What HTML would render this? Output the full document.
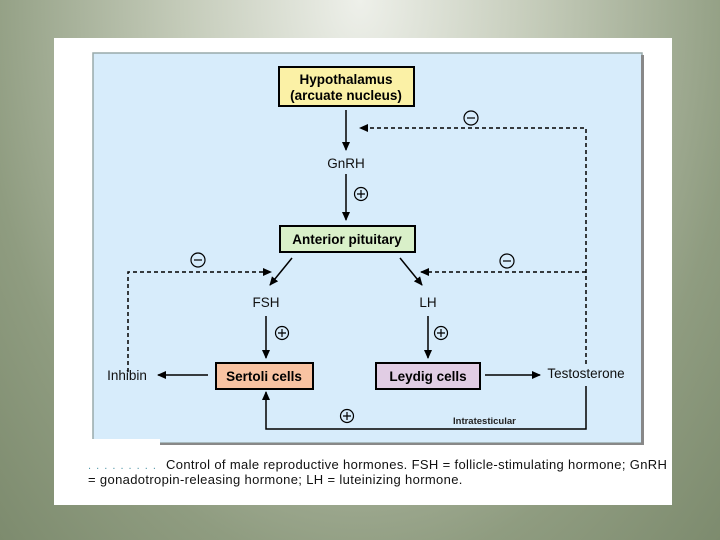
<!DOCTYPE html>
<html><head><style>
html,body{margin:0;padding:0}
body{width:720px;height:540px;overflow:hidden;position:relative;
background:radial-gradient(ellipse at 50% 0%,#eef0ea 0%,#c4cbb9 35%,#8f9c80 75%,#7d8b6e 100%);
font-family:"Liberation Sans",sans-serif}
#panel{position:absolute;left:54px;top:38px;width:618px;height:467px;background:#fff}
svg{position:absolute;left:0;top:0}
.cap{position:absolute;left:88px;font-size:13px;color:#111;white-space:nowrap;letter-spacing:0.35px}
</style></head><body>
<div id="panel"></div>
<svg width="720" height="540" font-family="Liberation Sans, sans-serif">
<defs><marker id="a" markerWidth="9" markerHeight="8" refX="8" refY="4" orient="auto" markerUnits="userSpaceOnUse"><path d="M0,0 L9,4 L0,8 z" fill="#000"/></marker></defs>
<rect x="93" y="53" width="549" height="390" fill="#d7ecfb" stroke="#9aa" stroke-width="1.5"/>
<rect x="641" y="55" width="3" height="390" fill="#888"/>
<rect x="95" y="443" width="549" height="2" fill="#888"/>
<rect x="54" y="439" width="106" height="8" fill="#fff"/>
<g stroke="#000" stroke-width="1.5" fill="none">
<line x1="346" y1="110" x2="346" y2="150" marker-end="url(#a)"/>
<line x1="346" y1="174" x2="346" y2="220" marker-end="url(#a)"/>
<line x1="292" y1="258" x2="270" y2="285" marker-end="url(#a)"/>
<line x1="400" y1="258" x2="422" y2="285" marker-end="url(#a)"/>
<line x1="266" y1="316" x2="266" y2="358" marker-end="url(#a)"/>
<line x1="428" y1="316" x2="428" y2="358" marker-end="url(#a)"/>
<line x1="208" y1="375" x2="158" y2="375" marker-end="url(#a)"/>
<line x1="485" y1="375" x2="540" y2="375" marker-end="url(#a)"/>
<polyline points="586,386 586,429 266,429 266,392" marker-end="url(#a)"/>
<g stroke-dasharray="4,3">
<polyline points="586,364 586,128 360,128" marker-end="url(#a)"/>
<line x1="586" y1="272" x2="421" y2="272" marker-end="url(#a)"/>
<polyline points="128,372 128,272 271,272" marker-end="url(#a)"/>
</g>
</g>
<g stroke="#000" stroke-width="1.2" fill="none">
<circle cx="471" cy="118" r="7"/><line x1="467" y1="118" x2="475" y2="118"/>
<circle cx="198" cy="260" r="7"/><line x1="194" y1="260" x2="202" y2="260"/>
<circle cx="507" cy="261" r="7"/><line x1="503" y1="261" x2="511" y2="261"/>
<circle cx="361" cy="194" r="6.5"/><path d="M357,194h8M361,190v8"/>
<circle cx="282" cy="333" r="6.5"/><path d="M278,333h8M282,329v8"/>
<circle cx="441" cy="333" r="6.5"/><path d="M437,333h8M441,329v8"/>
<circle cx="347" cy="416" r="6.5"/><path d="M343,416h8M347,412v8"/>
</g>
<rect x="279" y="67" width="135" height="39" fill="#fbf1a6" stroke="#000" stroke-width="2"/>
<rect x="280" y="226" width="135" height="26" fill="#d9f0c9" stroke="#000" stroke-width="2"/>
<rect x="216" y="363" width="97" height="26" fill="#f8c3a2" stroke="#000" stroke-width="2"/>
<rect x="376" y="363" width="104" height="26" fill="#e1cde4" stroke="#000" stroke-width="2"/>
<g font-weight="bold" font-size="13.5" text-anchor="middle" fill="#000">
<text x="346" y="84">Hypothalamus</text>
<text x="346" y="100">(arcuate nucleus)</text>
<text x="347" y="244">Anterior pituitary</text>
<text x="264" y="381">Sertoli cells</text>
<text x="428" y="381">Leydig cells</text>
</g>
<g font-size="13.5" fill="#111" text-anchor="middle">
<text x="346" y="168">GnRH</text>
<text x="266" y="307">FSH</text>
<text x="428" y="307">LH</text>
<text x="127" y="380">Inhibin</text>
<text x="586" y="378">Testosterone</text>
</g>
<text x="453" y="424" font-size="9.5" font-weight="bold" fill="#222">Intratesticular</text>
<text x="88" y="469" font-size="11" fill="#59a" letter-spacing="1">. . . . . . . . .</text>
</svg>
<div class="cap" style="top:457px;left:166px">Control of male reproductive hormones. FSH = follicle-stimulating hormone; GnRH</div>
<div class="cap" style="top:472px">= gonadotropin-releasing hormone; LH = luteinizing hormone.</div>
</body></html>
